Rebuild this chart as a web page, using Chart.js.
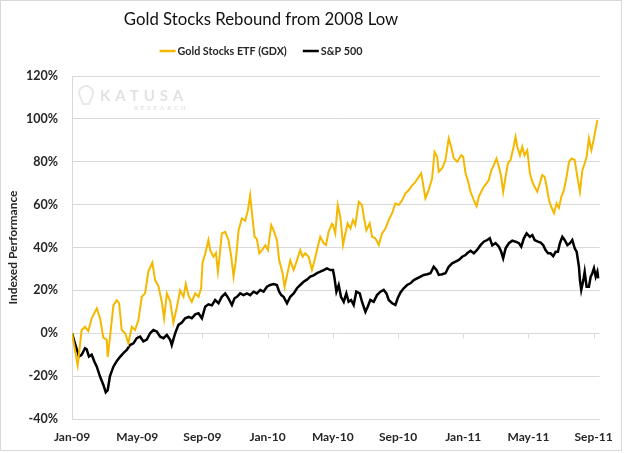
<!DOCTYPE html>
<html>
<head>
<meta charset="utf-8">
<script src="https://cdn.jsdelivr.net/npm/chart.js@4.4.0/dist/chart.umd.min.js"></script>
<style>
  html, body { margin: 0; padding: 0; background: #fff; }
  #wrap { width: 624px; height: 453px; }
</style>
</head>
<body>
<div id="wrap"><canvas id="chart" width="624" height="453"></canvas></div>
<script>
// ===== DONNÉES (mois depuis janv. 2009, performance en %) =====
const tickLabels = ['Jan-09', 'May-09', 'Sep-09', 'Jan-10', 'May-10', 'Sep-10', 'Jan-11', 'May-11', 'Sep-11'];

const gdxMonths = [0,0.35,0.59,0.8,1.0,1.21,1.52,1.72,1.92,2.13,
  2.19,2.33,2.54,2.74,2.89,3.05,3.26,3.46,3.67,3.87,
  4.07,4.28,4.48,4.69,4.93,5.1,5.3,5.51,5.65,5.82,
  6.02,6.22,6.43,6.63,6.84,6.98,7.15,7.35,7.56,7.76,
  7.92,8.01,8.17,8.37,8.48,8.68,8.83,8.95,9.03,9.19,
  9.4,9.6,9.77,9.91,10.05,10.22,10.42,10.63,10.79,10.93,
  11.04,11.2,11.34,11.49,11.65,11.86,12.02,12.22,12.37,12.57,
  12.71,12.92,13.04,13.19,13.39,13.6,13.8,14.0,14.15,14.31,
  14.52,14.72,14.88,15.03,15.23,15.44,15.58,15.74,15.95,16.01,
  16.15,16.3,16.46,16.63,16.77,16.91,17.08,17.24,17.38,17.59,
  17.79,17.9,18.06,18.26,18.41,18.61,18.82,19.02,19.23,19.43,
  19.64,19.84,20.04,20.25,20.45,20.66,20.87,21.07,21.27,21.42,
  21.54,21.68,21.89,22.09,22.24,22.4,22.5,22.71,22.91,23.11,
  23.26,23.42,23.63,23.88,24.0,24.14,24.28,24.45,24.65,24.82,
  24.96,25.1,25.26,25.43,25.57,25.72,25.88,26.04,26.19,26.33,
  26.45,26.6,26.74,26.9,27.07,27.21,27.32,27.48,27.62,27.76,
  27.93,28.09,28.24,28.38,28.54,28.7,28.85,28.99,29.12,29.26,
  29.4,29.57,29.73,29.87,30.02,30.18,30.34,30.49,30.65,30.84,
  31.0,31.16,31.31,31.45,31.57,31.71,31.86,32.02,32.13,32.23];

const gdxValues = [0,-15,1.5,3,1,7,11.6,7,-2,-3,
  -11,-2,13,15.4,14,1.5,0,-4.7,3,1.5,
  6,17,18.6,29,33,24.7,22,14.6,7,18.6,
  15,5,12,20,17,23,17.5,14.6,18.6,17,
  21,33,37,43.5,38.8,35.7,37.5,28.7,34,46.6,
  47.3,43.5,35.7,26.4,34,48,53.6,52.5,57.5,64.4,
  56,45,44,37.3,38.8,41,38.8,50.5,48,43.5,
  34,28,21.7,27,34,29.5,34,38.8,35.7,37.3,
  35.7,29.5,34,38.8,45,42,41.2,47.3,51,50.5,
  46.6,59.8,54.3,41.2,46.6,51.3,48.8,52.8,50.5,61.3,
  59.8,54.3,48,51.3,45,44.3,41.2,46.6,48.8,52.8,
  56,60.6,59.8,62,65.2,66.8,69,70.6,73,74.6,
  69.5,63,67,72.2,84.6,82.3,75.3,77,80.8,90.9,
  87,81.6,80,83,82.3,74.6,71.4,66,62.1,59.3,
  63.7,66,68.3,69.9,71.4,76,78.4,81.5,77.7,73,
  66,73,79.2,80.8,86.2,91.6,86.9,83,87,83,
  85.4,74.6,70.6,68.3,66,69.9,73.8,73,68.3,62.1,
  59,56,60.6,58.5,63.7,66.8,73,80,81.5,80.8,
  73,66,76.1,79.2,82.3,90.9,85.4,90.9,95.5,99.4];

const spMonths = [0,0.18,0.43,0.59,0.8,0.9,1.04,1.21,1.37,1.52,
  1.72,1.92,2.07,2.19,2.33,2.54,2.74,2.95,3.15,3.36,
  3.56,3.77,3.97,4.18,4.38,4.59,4.79,4.99,5.2,5.41,
  5.61,5.82,6.02,6.12,6.33,6.53,6.74,6.94,7.15,7.35,
  7.56,7.76,7.97,8.17,8.37,8.58,8.78,8.99,9.19,9.4,
  9.6,9.81,9.97,10.12,10.32,10.52,10.73,10.93,11.14,11.34,
  11.55,11.75,11.96,12.16,12.37,12.57,12.71,12.84,12.98,13.19,
  13.39,13.6,13.8,14.0,14.21,14.41,14.62,14.82,15.03,15.23,
  15.44,15.64,15.85,16.01,16.09,16.22,16.36,16.5,16.67,16.83,
  16.97,17.12,17.28,17.44,17.65,17.79,18.0,18.14,18.3,18.51,
  18.71,18.92,19.12,19.29,19.43,19.64,19.84,19.98,20.15,20.35,
  20.56,20.76,20.97,21.17,21.38,21.58,21.79,21.99,22.19,22.36,
  22.5,22.71,22.91,23.11,23.32,23.53,23.73,23.94,24.14,24.24,
  24.45,24.65,24.86,25.06,25.26,25.47,25.63,25.78,25.98,26.19,
  26.33,26.45,26.6,26.8,27.01,27.21,27.42,27.56,27.72,27.89,
  28.09,28.24,28.38,28.58,28.75,28.91,29.05,29.2,29.36,29.52,
  29.67,29.81,29.93,30.08,30.22,30.39,30.55,30.69,30.84,30.96,
  31.1,31.16,31.24,31.37,31.45,31.57,31.71,31.82,31.92,32.02,
  32.13,32.23,32.29];

const spValues = [0,-4.7,-10.9,-10.1,-7,-7.5,-10.9,-10,-13.2,-15.6,
  -20.2,-24,-27.5,-26.5,-20,-15.6,-13,-11,-9.3,-7.8,
  -5.5,-4.7,-2.3,-1.6,-3.8,-3,0,1.5,0.8,-1.6,
  -2.3,-0.8,-3,-5.5,0,3.9,5,7,7.6,7,
  8.8,9.3,7,12.4,13.5,13,15.5,14,17,18.6,
  16.3,13.2,16.3,17,18.6,17.8,18.6,17.8,19.4,18.6,
  20.2,19.4,21.7,22.5,23,22.5,19.4,17.8,17,14,
  17,18.6,21,22.5,24,25,26.4,27,28,28.7,
  29.5,30.3,29.5,29.5,26.4,19.4,22.5,17,14.7,18.6,
  14.7,15.5,13.2,19.4,18.6,14.7,10,12.4,15.5,14.7,
  17.8,19.4,20.2,18.6,15.5,14,13.2,16.3,19,21,
  22.5,23.3,24.8,25.6,26.4,27.2,27.5,28,31,29.5,
  27.2,27.5,28,31,32.6,33.4,34.2,35.7,36.5,37.3,
  38.5,37.3,39,41.1,42.7,43.5,44.3,41,42,40.4,
  38,35,39.6,42,43.2,42.7,42,40.4,44.3,46.6,
  45,45.8,43.5,42.7,42.3,41.1,38.8,37.3,37.3,36,
  38,38,42,45,43.5,41.1,42,43.5,39.6,38,
  31,24.8,20.2,24.8,28.7,21.7,21.7,26.4,28,30.3,
  26.4,28.7,25.6];

const TITLE = 'Gold Stocks Rebound from 2008 Low';
const GOLD = '#f5b800';
const FONT = 'Lato, "Open Sans", sans-serif';
const TEXT = '#262626';
const GRID = '#d9d9d9';

function toPoints(xs, ys) {
    return xs.map((x, i) => ({ x: x, y: ys[i] }));
}

// taille de police qui donne la largeur voulue
function fitFont(ctx, text, weight, target) {
    let size = 26;
    while (size > 8) {
        ctx.font = weight + ' ' + size + 'px ' + FONT;
        if (ctx.measureText(text).width <= target) break;
        size -= 0.25;
    }
    return size;
}

// ===== PLUGINS =====
// Titre + légende (centrés comme dans Excel), graduations sur 0 %, filigrane, cadre
const decorPlugin = {
    id: 'decor',
    beforeDatasetsDraw(chart) {
        const { ctx, chartArea, scales } = chart;
        const y0 = scales.y.getPixelForValue(0);
        ctx.save();
        ctx.strokeStyle = GRID;
        ctx.lineWidth = 1;
        for (let i = 0; i < tickLabels.length; i++) {
            const x = Math.round(scales.x.getPixelForValue(i * 4)) + 0.5;
            ctx.beginPath();
            ctx.moveTo(x, y0);
            ctx.lineTo(x, y0 + 5);
            ctx.stroke();
        }
        // filigrane KATUSA
        const lx = chartArea.left + 14, ly = chartArea.top + 20;
        ctx.strokeStyle = 'rgba(0,0,0,0.09)';
        ctx.lineWidth = 2;
        ctx.beginPath();
        ctx.arc(lx, ly - 3, 7, Math.PI * 0.8, Math.PI * 2.2);
        ctx.lineTo(lx + 3, ly + 8);
        ctx.lineTo(lx - 3, ly + 8);
        ctx.closePath();
        ctx.stroke();
        ctx.fillStyle = 'rgba(0,0,0,0.12)';
        ctx.font = 'bold 15px ' + FONT;
        ctx.textBaseline = 'middle';
        ctx.letterSpacing = '5px';
        ctx.fillText('KATUSA', lx + 14, ly);
        ctx.font = 'bold 6px ' + FONT;
        ctx.letterSpacing = '3px';
        ctx.fillText('RESEARCH', lx + 48, ly + 12);
        ctx.letterSpacing = '0px';
        ctx.restore();
    },
    afterDraw(chart) {
        const ctx = chart.ctx;
        const cx = 261;
        ctx.save();
        ctx.letterSpacing = '0px';
        // titre
        fitFont(ctx, TITLE, 'normal', 278);
        ctx.fillStyle = '#111';
        ctx.textAlign = 'center';
        ctx.textBaseline = 'middle';
        ctx.fillText(TITLE, cx, 20);
        // légende
        const items = chart.data.datasets.map(d => ({ text: d.label, color: d.borderColor }));
        fitFont(ctx, items[0].text, 'bold', 111);
        ctx.textAlign = 'left';
        const sw = 16, gap = 2, between = 16;
        const widths = items.map(it => sw + gap + ctx.measureText(it.text).width);
        const total = widths.reduce((a, b) => a + b, 0) + between * (items.length - 1);
        let x = cx - total / 2;
        const ly = 51;
        items.forEach((it, i) => {
            ctx.strokeStyle = it.color;
            ctx.lineWidth = 2.5;
            ctx.beginPath();
            ctx.moveTo(x, ly);
            ctx.lineTo(x + sw, ly);
            ctx.stroke();
            ctx.fillStyle = TEXT;
            ctx.fillText(it.text, x + sw + gap, ly + 1);
            x += widths[i] + between;
        });
        // cadre
        ctx.strokeStyle = GRID;
        ctx.lineWidth = 1;
        ctx.strokeRect(0.5, 0.5, chart.width - 3, chart.height - 3);
        ctx.restore();
    }
};

// ===== GRAPHIQUE =====
const ctx = document.getElementById('chart').getContext('2d');
const chart = new Chart(ctx, {
    type: 'line',
    data: {
        datasets: [
            {
                label: 'Gold Stocks ETF (GDX)',
                data: toPoints(gdxMonths, gdxValues),
                borderColor: GOLD,
                backgroundColor: GOLD,
                borderWidth: 2,
                pointRadius: 0,
                tension: 0
            },
            {
                label: 'S&P 500',
                data: toPoints(spMonths, spValues),
                borderColor: '#000000',
                backgroundColor: '#000000',
                borderWidth: 2.5,
                pointRadius: 0,
                tension: 0
            }
        ]
    },
    options: {
        responsive: false,
        animation: false,
        layout: { padding: { left: 4, right: 24, top: 76, bottom: 0 } },
        plugins: {
            title: { display: false },
            legend: { display: false },
            tooltip: { enabled: false }
        },
        scales: {
            x: {
                type: 'linear',
                min: 0,
                max: 32.37,
                afterBuildTicks(scale) {
                    scale.ticks = tickLabels.map((_, i) => ({ value: i * 4 }));
                },
                afterFit(scale) { scale.height = 34; },
                ticks: {
                    color: TEXT,
                    font: { family: FONT, size: 12, weight: 'bold' },
                    padding: 11,
                    maxRotation: 0,
                    autoSkip: false,
                    callback: (v) => tickLabels[Math.round(v / 4)]
                },
                grid: { display: false, drawTicks: false },
                border: { display: false }
            },
            y: {
                min: -40,
                max: 120,
                afterFit(scale) { scale.width = 68; },
                ticks: {
                    stepSize: 20,
                    color: TEXT,
                    font: { family: FONT, size: 12.5, weight: 'bold' },
                    padding: 14,
                    callback: (v) => v + '%'
                },
                title: {
                    display: true,
                    text: 'Indexed Performance',
                    color: TEXT,
                    font: { family: FONT, size: 12, weight: 'bold' },
                    padding: { top: 2, bottom: 0 }
                },
                grid: { color: GRID, drawTicks: false },
                border: { display: true, color: GRID }
            }
        }
    },
    plugins: [decorPlugin]
});
</script>
</body>
</html>
